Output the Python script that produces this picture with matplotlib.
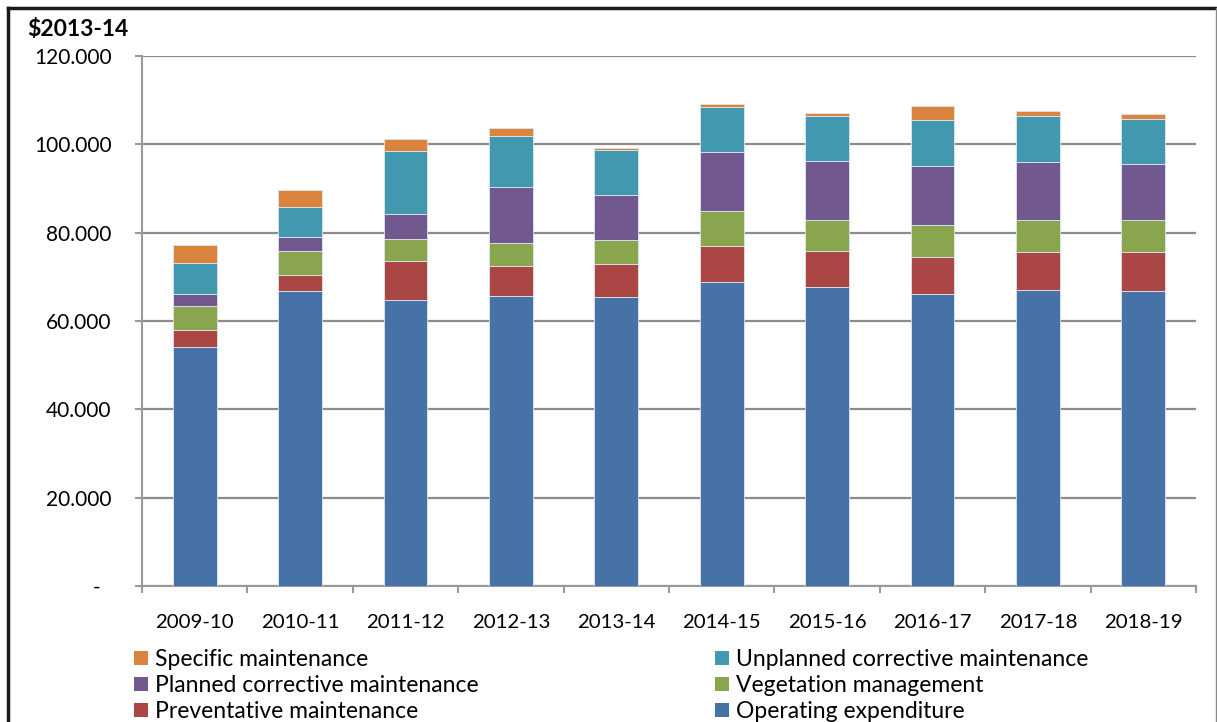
import matplotlib
matplotlib.use("Agg")
import matplotlib.pyplot as plt
from matplotlib.lines import Line2D
from matplotlib.patches import Patch
import numpy as np

plt.rcParams['font.family'] = ['Lato', 'DejaVu Sans']

years = ["2009-10", "2010-11", "2011-12", "2012-13", "2013-14",
         "2014-15", "2015-16", "2016-17", "2017-18", "2018-19"]

operating = [54.2, 66.7, 64.8, 65.7, 65.4, 68.8, 67.8, 66.1, 67.1, 66.7]
preventative = [3.7, 3.7, 8.7, 6.8, 7.5, 8.2, 8.1, 8.5, 8.5, 8.9]
vegetation = [5.4, 5.5, 5.1, 5.1, 5.4, 7.8, 6.9, 7.1, 7.2, 7.2]
planned = [2.8, 3.1, 5.6, 12.7, 10.2, 13.5, 13.5, 13.3, 13.2, 12.8]
unplanned = [7.0, 6.7, 14.2, 11.7, 10.2, 10.1, 10.1, 10.5, 10.4, 10.2]
specific = [4.2, 3.9, 2.7, 1.8, 0.4, 0.8, 0.8, 3.1, 1.2, 1.1]

y_ticks = [0, 20, 40, 60, 80, 100, 120]
y_tick_labels = ["-  ", "20.000", "40.000", "60.000", "80.000", "100.000", "120.000"]

series = [
    ("Operating expenditure", operating, "#4672A8"),
    ("Preventative maintenance", preventative, "#AA4643"),
    ("Vegetation management", vegetation, "#89A54E"),
    ("Planned corrective maintenance", planned, "#71588F"),
    ("Unplanned corrective maintenance", unplanned, "#4198AF"),
    ("Specific maintenance", specific, "#DB843D"),
]

W, H = 1217, 722
fig = plt.figure(figsize=(W / 100, H / 100), dpi=100)
ax = fig.add_axes([142 / W, 1 - 586 / H, (1196 - 142) / W, (586 - 56) / H])

x = np.arange(len(years))
bottom = np.zeros(len(years))
handles = {}
for name, vals, col in series:
    vals = np.array(vals)
    ax.bar(x, vals, width=0.414, bottom=bottom, color=col,
           edgecolor="#dde6f0", linewidth=0.6, zorder=3)
    handles[name] = Patch(facecolor=col, edgecolor='none')
    bottom += vals

ax.set_xlim(-0.5, len(years) - 0.5)
ax.set_ylim(0, 120)
ax.set_yticks(y_ticks)
ax.set_yticklabels(y_tick_labels)
ax.set_xticks(x)
ax.set_xticklabels(years)
ax.set_xticks(np.arange(-0.5, len(years), 1), minor=True)

ax.grid(axis='y', color="#8c8c8c", linewidth=1.6, zorder=0)
ax.set_axisbelow(True)
for s in ['top', 'right']:
    ax.spines[s].set_visible(False)
for s in ['left', 'bottom']:
    ax.spines[s].set_color("#9a9a9a")
    ax.spines[s].set_linewidth(1.5)

ax.tick_params(axis='y', length=5, width=1.5, color="#9a9a9a", pad=17,
               labelsize=15, labelcolor="black")
ax.tick_params(axis='x', which='major', length=0, pad=20, labelsize=14.7)
ax.tick_params(axis='x', which='minor', length=5, width=1.5, color="#9a9a9a")

fig.text(27 / W, 1 - 30 / H, "$2013-14", fontsize=16.5, fontweight='bold',
         ha='left', va='center')

leg_kw = dict(frameon=False, fontsize=16.5, handlelength=0.6, handleheight=0.6,
              handletextpad=0.3, labelspacing=0.22, borderpad=0, borderaxespad=0)
left_names = ["Specific maintenance", "Planned corrective maintenance", "Preventative maintenance"]
right_names = ["Unplanned corrective maintenance", "Vegetation management", "Operating expenditure"]
fig.legend([handles[n] for n in left_names], left_names,
           loc='upper left', bbox_to_anchor=(134 / W, 1 - 649 / H), **leg_kw)
fig.legend([handles[n] for n in right_names], right_names,
           loc='upper left', bbox_to_anchor=(715 / W, 1 - 649 / H), **leg_kw)

# outer frame
fig.add_artist(Line2D([8 / W, 8 / W], [0, 1 - 8 / H], transform=fig.transFigure,
                      color="#1a1a1a", linewidth=2.5))
fig.add_artist(Line2D([8 / W, 1216 / W], [1 - 8 / H, 1 - 8 / H], transform=fig.transFigure,
                      color="#1a1a1a", linewidth=2.5))
fig.add_artist(Line2D([1215.5 / W, 1215.5 / W], [0, 1 - 8 / H], transform=fig.transFigure,
                      color="#888888", linewidth=1.0))

fig.savefig("out.png", dpi=100)
